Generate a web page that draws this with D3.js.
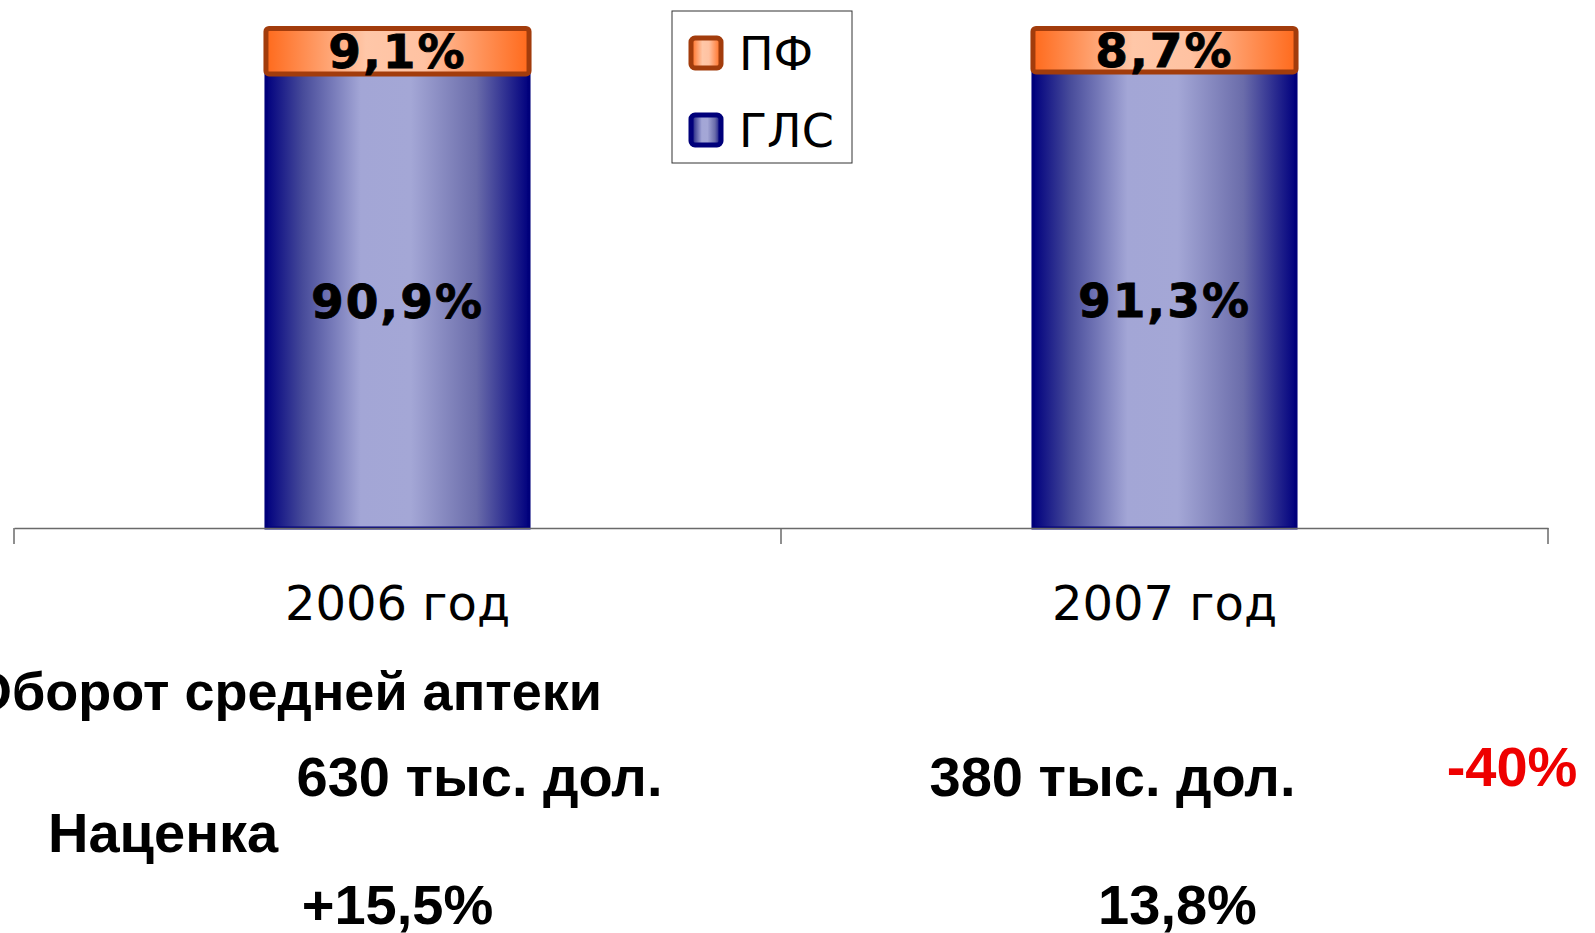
<!DOCTYPE html>
<html>
<head>
<meta charset="utf-8">
<script src="https://cdn.jsdelivr.net/npm/d3@7"></script>
<style>
  body { margin: 0; background: #fff; overflow: hidden; }
  svg { display: block; }
</style>
</head>
<body>
<script>
// data
const years = ["2006 год", "2007 год"];
const seriesNames = ["ГЛС", "ПФ"];
const glsShare = [90.9, 91.3];
const pfShare = [9.1, 8.7];
const turnover = ["630 тыс. дол.", "380 тыс. дол."];
const markup = ["+15,5%", "13,8%"];
const turnoverChange = "-40%";
const rowTitles = ["Оборот средней аптеки", "Наценка"];

const width = 1595, height = 933;
const axisY = 528, topY = 28.5;
const labelFont = "'DejaVu Sans', Verdana, sans-serif";
const boldFont = "'Liberation Sans', Arial, sans-serif";

const rows = years.map((y, i) => ({year: y, "ГЛС": glsShare[i], "ПФ": pfShare[i]}));
const stacked = d3.stack().keys(seriesNames)(rows);

const x = d3.scaleBand(years, [14, 1548]).padding(0);
const y = d3.scaleLinear([0, 100], [axisY, topY]);
const barW = x.bandwidth() * 0.343;

const svg = d3.select("body").append("svg")
    .attr("width", width)
    .attr("height", height)
    .attr("viewBox", [0, 0, width, height]);

const defs = svg.append("defs");
function hGrad(id, stops) {
  const g = defs.append("linearGradient").attr("id", id)
      .attr("x1", "0%").attr("x2", "100%").attr("y1", "0%").attr("y2", "0%");
  g.selectAll("stop").data(stops).join("stop")
      .attr("offset", d => d[0]).attr("stop-color", d => d[1]);
}
hGrad("gBlue", [[0, "#00007e"], [0.14, "#474b9a"], [0.36, "#a3a6d6"], [0.55, "#a4a7d6"], [0.8, "#6a6caa"], [1, "#00007e"]]);
hGrad("gOrange", [[0, "#ff6a1c"], [0.38, "#ffc7a8"], [0.6, "#ffc2a2"], [1, "#ff6a1c"]]);

const fills = {"ГЛС": "url(#gBlue)", "ПФ": "url(#gOrange)"};
const strokes = {"ГЛС": "#00007a", "ПФ": "#a23c0c"};
const strokeW = {"ГЛС": 3, "ПФ": 5};

// bars
const layer = svg.append("g").selectAll("g")
  .data(stacked)
  .join("g");

layer.selectAll("rect")
  .data(s => s.map(d => ({key: s.key, d})))
  .join("rect")
    .attr("x", v => x(v.d.data.year) + (x.bandwidth() - barW) / 2)
    .attr("y", v => y(v.d[1]))
    .attr("width", barW)
    .attr("height", v => y(v.d[0]) - y(v.d[1]))
    .attr("rx", v => v.key === "ПФ" ? 3 : 0)
    .attr("fill", v => fills[v.key])
    .attr("stroke", v => strokes[v.key])
    .attr("stroke-width", v => strokeW[v.key]);

layer.selectAll("text")
  .data(s => s.map(d => ({key: s.key, d})))
  .join("text")
    .attr("x", v => x(v.d.data.year) + x.bandwidth() / 2)
    .attr("y", v => (y(v.d[0]) + y(v.d[1])) / 2)
    .attr("dy", "0.36em")
    .attr("text-anchor", "middle")
    .attr("font-family", labelFont)
    .attr("font-weight", "bold")
    .attr("font-size", 47)
    .attr("letter-spacing", 2)
    .attr("stroke", "#000").attr("stroke-width", 0.8)
    .attr("fill", "#000")
    .text(v => (v.d[1] - v.d[0]).toFixed(1).replace(".", ",") + "%");

// axis
const axis = svg.append("g").attr("transform", `translate(0,${axisY})`)
    .call(d3.axisBottom(x).tickSize(0).tickSizeOuter(0).tickPadding(58));
axis.select(".domain").attr("stroke", "#6a6a6a").attr("stroke-width", 1.5);
axis.selectAll(".tick text")
    .attr("font-family", labelFont)
    .attr("font-size", 48)
    .attr("fill", "#000");
// category separators
axis.selectAll(".sep")
  .data([...years.map(d => x(d)), x.range()[1]])
  .join("line")
    .attr("x1", d => d).attr("x2", d => d)
    .attr("y1", 0).attr("y2", 16)
    .attr("stroke", "#6a6a6a").attr("stroke-width", 1.5);

// legend
const lg = svg.append("g").attr("transform", "translate(672,11)");
lg.append("rect").attr("width", 180).attr("height", 152)
    .attr("fill", "#fff").attr("stroke", "#333").attr("stroke-width", 1);
const item = lg.selectAll(".item")
  .data(seriesNames.slice().reverse())
  .join("g")
    .attr("transform", (d, i) => `translate(19,${27 + i * 77})`);
item.append("rect")
    .attr("width", 30).attr("height", 30).attr("rx", 4)
    .attr("fill", d => fills[d])
    .attr("stroke", d => strokes[d]).attr("stroke-width", 5);
item.append("text")
    .attr("x", 48).attr("y", 15).attr("dy", "0.36em")
    .attr("font-family", labelFont).attr("font-size", 46)
    .attr("fill", "#000")
    .text(d => d);

// table below the chart
const boldText = (tx, ty, s, anchor, color, size) => svg.append("text")
    .attr("x", tx).attr("y", ty)
    .attr("text-anchor", anchor)
    .attr("font-family", boldFont).attr("font-weight", "bold")
    .attr("font-size", size || 56)
    .attr("fill", color || "#000")
    .text(s);

const cx = d => x(d) + x.bandwidth() / 2;
boldText(-30, 710, rowTitles[0], "start", null, 54);
turnover.forEach((s, i) => boldText(cx(years[i]) + (i === 0 ? 82 : -52), 796, s, "middle"));
boldText(1512, 786, turnoverChange, "middle", "#ee0000");
boldText(48, 852, rowTitles[1], "start");
markup.forEach((s, i) => boldText(cx(years[i]) + (i === 0 ? 0 : 13), 924, s, "middle"));
</script>
</body>
</html>
